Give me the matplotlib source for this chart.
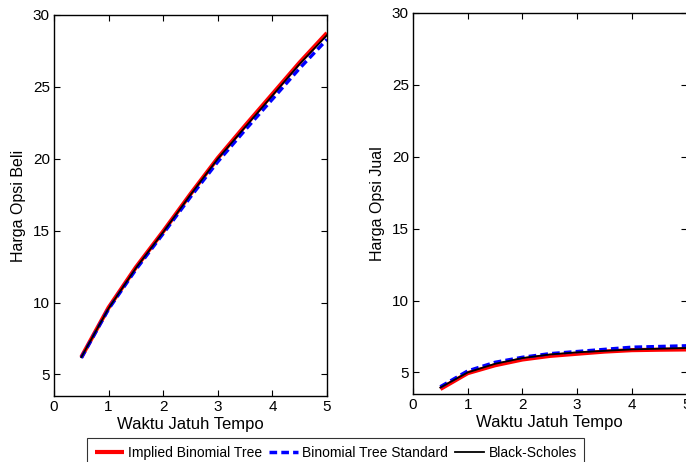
import matplotlib
matplotlib.use("Agg")
import matplotlib.pyplot as plt

plt.rcParams['font.family'] = ['Liberation Sans', 'DejaVu Sans']

# Maturity (years)
T = [0.5, 1.0, 1.5, 2.0, 2.5, 3.0, 3.5, 4.0, 4.5, 5.0]

# Call option prices (Harga Opsi Beli)
call_implied = [6.2, 9.65, 12.45, 14.95, 17.55, 20.05, 22.3, 24.5, 26.7, 28.75]
call_standard = [6.15, 9.55, 12.3, 14.8, 17.35, 19.8, 22.0, 24.15, 26.3, 28.3]
call_bs = [6.2, 9.6, 12.4, 14.9, 17.5, 20.0, 22.2, 24.4, 26.6, 28.6]

# Put option prices (Harga Opsi Jual)
put_implied = [3.85, 4.95, 5.5, 5.9, 6.15, 6.3, 6.45, 6.55, 6.58, 6.6]
put_standard = [4.0, 5.1, 5.7, 6.05, 6.3, 6.45, 6.6, 6.75, 6.8, 6.85]
put_bs = [3.95, 5.0, 5.6, 6.0, 6.25, 6.4, 6.5, 6.6, 6.65, 6.7]

labels = ['Implied Binomial Tree', 'Binomial Tree Standard', 'Black-Scholes']
xticks = [0, 1, 2, 3, 4, 5]
yticks = [5, 10, 15, 20, 25, 30]

fig = plt.figure(figsize=(6.86, 4.62), dpi=100)
ax1 = fig.add_axes([54/686, 1-396/462, (327-54)/686, (396-15)/462])
ax2 = fig.add_axes([413/686, 1-394/462, (686.5-413)/686, (394-13)/462])

def draw(ax, imp, std, bs, ylabel):
    l1, = ax.plot(T, imp, color='red', lw=3.0, solid_capstyle='butt')
    l2, = ax.plot(T, std, color='blue', lw=2.5, ls=(0, (2.2, 1.2)))
    l3, = ax.plot(T, bs, color='black', lw=1.3)
    ax.set_xlim(0, 5)
    ax.set_ylim(3.5, 30)
    ax.set_xticks(xticks)
    ax.set_yticks(yticks)
    ax.tick_params(direction='in', top=True, right=True, labelsize=11, length=4, width=0.8, pad=3)
    ax.set_xlabel('Waktu Jatuh Tempo', fontsize=12, labelpad=2)
    ax.set_ylabel(ylabel, fontsize=11.5, labelpad=5)
    for s in ax.spines.values():
        s.set_linewidth(1.0)
    return l1, l2, l3

h = draw(ax1, call_implied, call_standard, call_bs, 'Harga Opsi Beli')
draw(ax2, put_implied, put_standard, put_bs, 'Harga Opsi Jual')

leg = fig.legend(h, labels, ncol=3, loc='upper left', bbox_to_anchor=(87/686, 1-438/462),
                 fontsize=10, frameon=True, fancybox=False, edgecolor='black',
                 handlelength=2.1, handletextpad=0.3, columnspacing=0.5,
                 borderpad=0.55, borderaxespad=0)
leg.get_frame().set_linewidth(0.8)

fig.savefig('out.png', dpi=100)
